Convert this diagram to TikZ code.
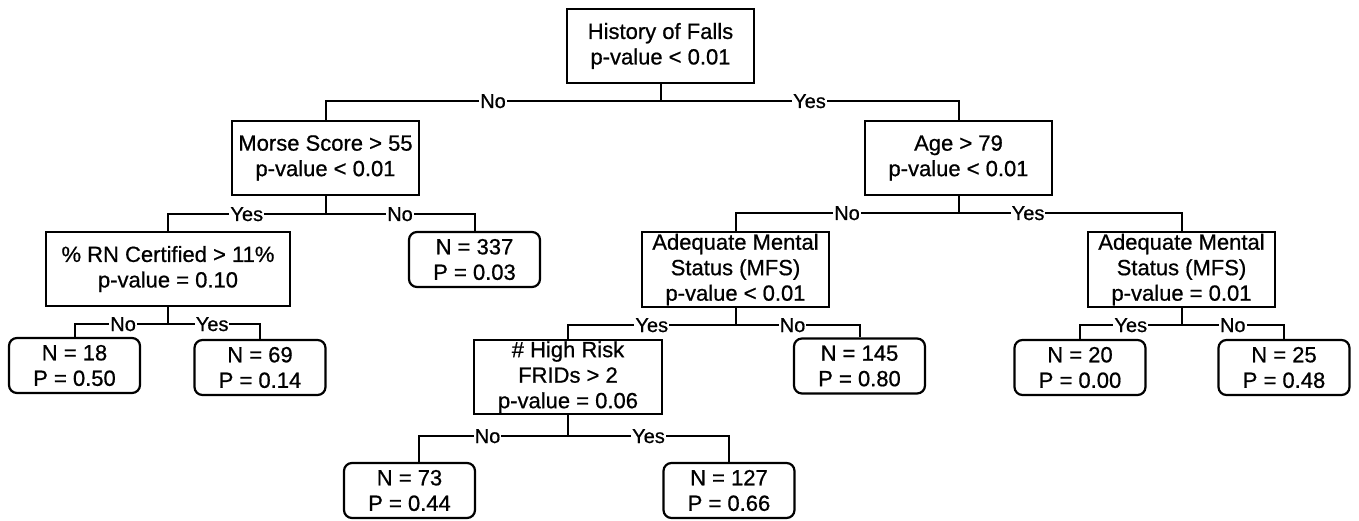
\documentclass[tikz,border=0pt]{standalone}
\usepackage{fontspec}
\setmainfont{Liberation Sans}[FakeBold=0.7]
\begin{document}
\begin{tikzpicture}[x=1pt,y=-1pt,
  box/.style={draw, line width=2.2pt, inner sep=0pt, align=center,
    font=\fontsize{22}{25.5}\selectfont},
  split/.style={box, minimum width=187pt, minimum height=74pt},
  leaf/.style={box, rounded corners=8pt, minimum width=131pt, minimum height=55pt},
  edge/.style={line width=2pt},
  lbl/.style={fill=white, inner xsep=1pt, inner ysep=0pt, text height=14pt, text depth=0pt,
    font=\fontsize{20}{22}\selectfont}]
\fill[white] (0,0) rectangle (1359,521);
\useasboundingbox (0,0) rectangle (1359,521);

% nodes
\node[split] (root) at (660.5,46) {History of Falls\\p-value < 0.01};
\node[split] (morse) at (325.5,158) {Morse Score > 55\\p-value < 0.01};
\node[split] (age) at (958.5,158) {Age > 79\\p-value < 0.01};
\node[split, minimum width=244pt] (rn) at (168,269) {\% RN Certified > 11\%\\p-value = 0.10};
\node[leaf] (n337) at (474.5,259.5) {N = 337\\P = 0.03};
\node[split, minimum height=75pt] (ams1) at (735.5,269.5) {Adequate Mental\\Status (MFS)\\p-value < 0.01};
\node[split, minimum height=75pt] (ams2) at (1181.5,269.5) {Adequate Mental\\Status (MFS)\\p-value = 0.01};
\node[leaf] (n18) at (74.5,365.5) {N = 18\\P = 0.50};
\node[leaf] (n69) at (260,367.5) {N = 69\\P = 0.14};
\node[split, minimum width=188pt] (frids) at (568,377) {\# High Risk\\FRIDs > 2\\p-value = 0.06};
\node[leaf] (n145) at (859.5,366) {N = 145\\P = 0.80};
\node[leaf] (n20) at (1080,367.5) {N = 20\\P = 0.00};
\node[leaf] (n25) at (1284,367.5) {N = 25\\P = 0.48};
\node[leaf] (n73) at (409.5,490.5) {N = 73\\P = 0.44};
\node[leaf] (n127) at (729,490.5) {N = 127\\P = 0.66};

% split points
\coordinate (rootb) at (660.5,101);
\coordinate (morseb) at (325.5,214);
\coordinate (ageb) at (958.5,213);
\coordinate (rnb) at (168,324);
\coordinate (ams1b) at (735.5,325);
\coordinate (ams2b) at (1181.5,325);
\coordinate (fridsb) at (568,436);

% connectors
\draw[edge] (root.south) -- (rootb);
\draw[edge] (rootb) -| node[lbl,pos=0.25]{No} (morse.north);
\draw[edge] (rootb) -| node[lbl,pos=0.25]{Yes} (age.north);

\draw[edge] (morse.south) -- (morseb);
\draw[edge] (morseb) -| node[lbl,pos=0.25]{Yes} (rn.north);
\draw[edge] (morseb) -| node[lbl,pos=0.25]{No} (n337.north);

\draw[edge] (age.south) -- (ageb);
\draw[edge] (ageb) -| node[lbl,pos=0.25]{No} (ams1.north);
\draw[edge] (ageb) -| node[lbl,pos=0.156]{Yes} (ams2.north);

\draw[edge] (rn.south) -- (rnb);
\draw[edge] (rnb) -| node[lbl,pos=0.24]{No} (n18.north);
\draw[edge] (rnb) -| node[lbl,pos=0.24]{Yes} (n69.north);

\draw[edge] (ams1.south) -- (ams1b);
\draw[edge] (ams1b) -| node[lbl,pos=0.25]{Yes} (frids.north);
\draw[edge] (ams1b) -| node[lbl,pos=0.23]{No} (n145.north);

\draw[edge] (ams2.south) -- (ams2b);
\draw[edge] (ams2b) -| node[lbl,pos=0.25]{Yes} (n20.north);
\draw[edge] (ams2b) -| node[lbl,pos=0.25]{No} (n25.north);

\draw[edge] (frids.south) -- (fridsb);
\draw[edge] (fridsb) -| node[lbl,pos=0.27]{No} ([xshift=9.5pt]n73.north);
\draw[edge] (fridsb) -| node[lbl,pos=0.25]{Yes} (n127.north);
\end{tikzpicture}
\end{document}
